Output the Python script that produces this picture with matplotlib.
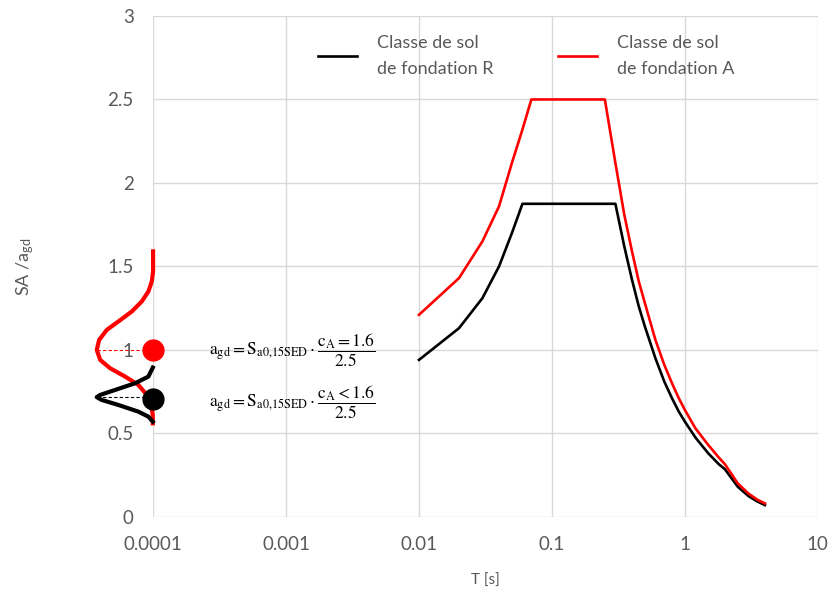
import matplotlib
matplotlib.use("Agg")
import matplotlib.pyplot as plt

# spectres (T en s, SA/agd)
t_r = [0.01, 0.02, 0.03, 0.04, 0.05, 0.06, 0.3, 0.35, 0.4, 0.45, 0.5, 0.6, 0.7, 0.8, 0.9, 1.0,
       1.2, 1.5, 1.8, 2.0, 2.5, 3.0, 3.5, 4.0]
sa_r = [0.94, 1.13, 1.31, 1.50, 1.70, 1.875, 1.875, 1.62, 1.42, 1.26, 1.14, 0.95, 0.81, 0.71, 0.63, 0.57,
        0.475, 0.38, 0.315, 0.285, 0.18, 0.125, 0.092, 0.07]
t_a = [0.01, 0.02, 0.03, 0.04, 0.05, 0.06, 0.07, 0.25, 0.3, 0.35, 0.4, 0.45, 0.5, 0.6, 0.7, 0.8, 0.9, 1.0,
       1.2, 1.5, 1.8, 2.0, 2.5, 3.0, 3.5, 4.0]
sa_a = [1.21, 1.43, 1.65, 1.86, 2.12, 2.32, 2.5, 2.5, 2.12, 1.81, 1.59, 1.41, 1.28, 1.06, 0.91, 0.80, 0.71, 0.64,
        0.53, 0.43, 0.355, 0.315, 0.20, 0.14, 0.103, 0.08]

# distributions dessinees a gauche de l'axe
dist_a_x = [1.0e-4, 1.0e-4, 0.978e-4, 0.922e-4, 0.822e-4, 0.692e-4, 0.548e-4, 0.449e-4, 0.393e-4,
            0.377e-4, 0.400e-4, 0.475e-4, 0.616e-4, 0.775e-4, 0.897e-4, 0.966e-4, 0.995e-4, 0.995e-4]
dist_a_y = [1.59, 1.47, 1.41, 1.35, 1.29, 1.23, 1.17, 1.12, 1.06,
            1.00, 0.94, 0.89, 0.84, 0.79, 0.73, 0.67, 0.61, 0.56]
dist_r_x = [0.995e-4, 0.922e-4, 0.732e-4, 0.518e-4, 0.400e-4, 0.377e-4, 0.411e-4, 0.548e-4, 0.775e-4,
            0.922e-4, 0.995e-4]
dist_r_y = [0.894, 0.84, 0.80, 0.76, 0.73, 0.717, 0.70, 0.67, 0.63, 0.60, 0.57]
dot_t = 1e-4
dot_a = 1.0
dot_r = 0.705
peak_r = 0.717

labels = ["Classe de sol\nde fondation R", "Classe de sol\nde fondation A"]
xticks = [1e-4, 1e-3, 1e-2, 1e-1, 1, 10]
xticklabels = ["0.0001", "0.001", "0.01", "0.1", "1", "10"]
yticks = [0, 0.5, 1, 1.5, 2, 2.5, 3]
yticklabels = ["0", "0.5", "1", "1.5", "2", "2.5", "3"]

plt.rcParams['font.family'] = ['Lato', 'DejaVu Sans']
plt.rcParams['mathtext.fontset'] = 'stix'
grey = '#595959'

fig = plt.figure(figsize=(8.32, 5.92), dpi=100)
ax = fig.add_axes([0.184, 0.127, 0.799, 0.846])

l1, = ax.plot(t_r, sa_r, color='black', lw=1.9, label=labels[0])
l2, = ax.plot(t_a, sa_a, color='#ff0000', lw=1.9, label=labels[1])

# distributions
ax.plot(dist_a_x, dist_a_y, color='#ff0000', lw=3, clip_on=False, solid_joinstyle='round')
ax.plot(dist_r_x, dist_r_y, color='black', lw=3, clip_on=False, solid_joinstyle='round')
ax.plot([min(dist_a_x), dot_t], [dot_a, dot_a], color='#ff0000', lw=0.8, ls=(0, (3, 2)), clip_on=False)
ax.plot([min(dist_r_x), dot_t], [peak_r, peak_r], color='black', lw=0.8, ls=(0, (3, 2)), clip_on=False)
ax.plot([dot_t], [dot_a], 'o', color='#ff0000', ms=15, clip_on=False, zorder=5)
ax.plot([dot_t], [dot_r], 'o', color='black', ms=15, clip_on=False, zorder=5)

ax.text(2.65e-4, 1.0, r'$\mathrm{a_{gd}} = \mathrm{S_{a0{,}15SED}} \cdot \dfrac{\mathrm{c_A} = 1.6}{2.5}$',
        fontsize=12.5, va='center', ha='left')
ax.text(2.65e-4, 0.69, r'$\mathrm{a_{gd}} = \mathrm{S_{a0{,}15SED}} \cdot \dfrac{\mathrm{c_A} < 1.6}{2.5}$',
        fontsize=12.5, va='center', ha='left')

ax.set_xscale('log')
ax.set_xlim(1e-4, 10)
ax.set_ylim(0, 3)
ax.set_xticks(xticks)
ax.set_xticklabels(xticklabels)
ax.set_yticks(yticks)
ax.set_yticklabels(yticklabels)
ax.minorticks_off()
ax.tick_params(axis='both', length=0, labelsize=13.5, labelcolor=grey)
ax.tick_params(axis='x', pad=14)
ax.tick_params(axis='y', pad=14)
ax.grid(True, color='#d9d9d9', lw=1)
ax.set_axisbelow(True)
for s in ax.spines.values():
    s.set_visible(False)

ax.set_xlabel('T [s]', color=grey, fontsize=11, labelpad=15)
ax.set_ylabel(r'SA /a$_{\mathregular{gd}}$', color=grey, fontsize=13, labelpad=51)

leg = ax.legend(handles=[l1, l2], loc='upper left', bbox_to_anchor=(0.223, 0.995), ncol=2,
                frameon=False, fontsize=13, handlelength=2.2, handletextpad=1.1,
                columnspacing=3.55, labelcolor=grey)
for t in leg.get_texts():
    t.set_linespacing(1.8)

fig.savefig('out.png', dpi=100)
